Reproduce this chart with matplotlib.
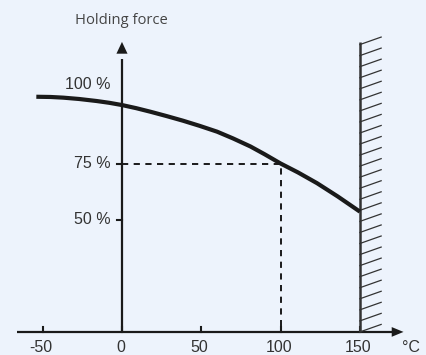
import matplotlib
matplotlib.use("Agg")
import matplotlib.pyplot as plt

# Data
temp = [-54, -45, -37, -27, -16, -8, 0, 9, 18, 28, 38.5, 49, 60, 70, 81, 90,
        100, 111, 123, 136, 150]
force = [105.0, 104.9, 104.6, 104.0, 103.1, 102.3, 101.3, 99.9, 98.3, 96.4,
         94.3, 92.0, 89.4, 86.4, 82.8, 79.3, 75.2, 71.2, 66.4, 60.5, 53.7]
x_ticks = [-50, 0, 50, 100, 150]
x_tick_labels = ["-50", "0", "50", "100", "150"]
y_ticks = [50, 75]
y_tick_labels = ["50 %", "75 %"]
ref_temp = 100
ref_force = 75
limit_temp = 150

BG = "#EDF3FC"
INK = "#1a1a1a"
TXT = "#333333"

fig = plt.figure(figsize=(4.27, 3.55), dpi=100, facecolor=BG)
ax = fig.add_axes([0, 0, 1, 1])
ax.set_facecolor(BG)
ax.set_xlim(-76.9, 192.3)
ax.set_ylim(-10.3, 148.2)
ax.axis("off")

# axes lines with arrow heads
ax.plot([-66.2, 170], [0, 0], color=INK, lw=1.6, solid_capstyle="butt")
ax.annotate("", xy=(177.5, 0), xytext=(168, 0),
            arrowprops=dict(arrowstyle="-|>,head_length=0.85,head_width=0.35",
                            color=INK, lw=0, shrinkA=0, shrinkB=0))
ax.plot([0, 0], [0, 122], color=INK, lw=1.6, solid_capstyle="butt")
ax.annotate("", xy=(0, 129.5), xytext=(0, 120),
            arrowprops=dict(arrowstyle="-|>,head_length=0.85,head_width=0.4",
                            color=INK, lw=0, shrinkA=0, shrinkB=0))

# ticks
for t in x_ticks:
    ax.plot([t, t], [0, 2.3], color=INK, lw=1.5)
for t, lab in zip(x_ticks, x_tick_labels):
    ax.text(t - 1, -7, lab, ha="center", va="center", fontsize=11.5,
            family="Liberation Sans", color=TXT)
ax.text(182, -7, "°C", ha="center", va="center", fontsize=11.5,
        family="Liberation Sans", color=TXT)
for t, lab in zip(y_ticks, y_tick_labels):
    ax.plot([-3.2, 0], [t, t], color=INK, lw=1.5)
    ax.text(-7.2, t, lab, ha="right", va="center", fontsize=11.5,
            family="Liberation Sans", color=TXT)
ax.text(-21.5, 110.5, "100 %", ha="center", va="center", fontsize=11.5,
        family="Liberation Sans", color=TXT)
ax.text(-0.5, 139, "Holding force", ha="center", va="center", fontsize=10.6,
        family="Open Sans", color="#444444")

# dashed reference lines
ax.plot([0, ref_temp, ref_temp], [ref_force, ref_force, 0], color=INK, lw=1.4,
        dashes=(3.2, 2.8))

# limit wall with hatching
ax.plot([limit_temp, limit_temp], [0, 129.5], color="#333333", lw=1.8,
        solid_capstyle="butt")
n_hatch = 27
for i in range(n_hatch):
    y0 = i * 128.3 / (n_hatch - 1)
    ax.plot([limit_temp, limit_temp + 13.4], [y0, y0 + 3.35], color="#333333", lw=0.9)

# curve
ax.plot(temp, force, color=INK, lw=3.0, solid_capstyle="butt", solid_joinstyle="round")

fig.savefig("out.png", dpi=100, facecolor=BG)
